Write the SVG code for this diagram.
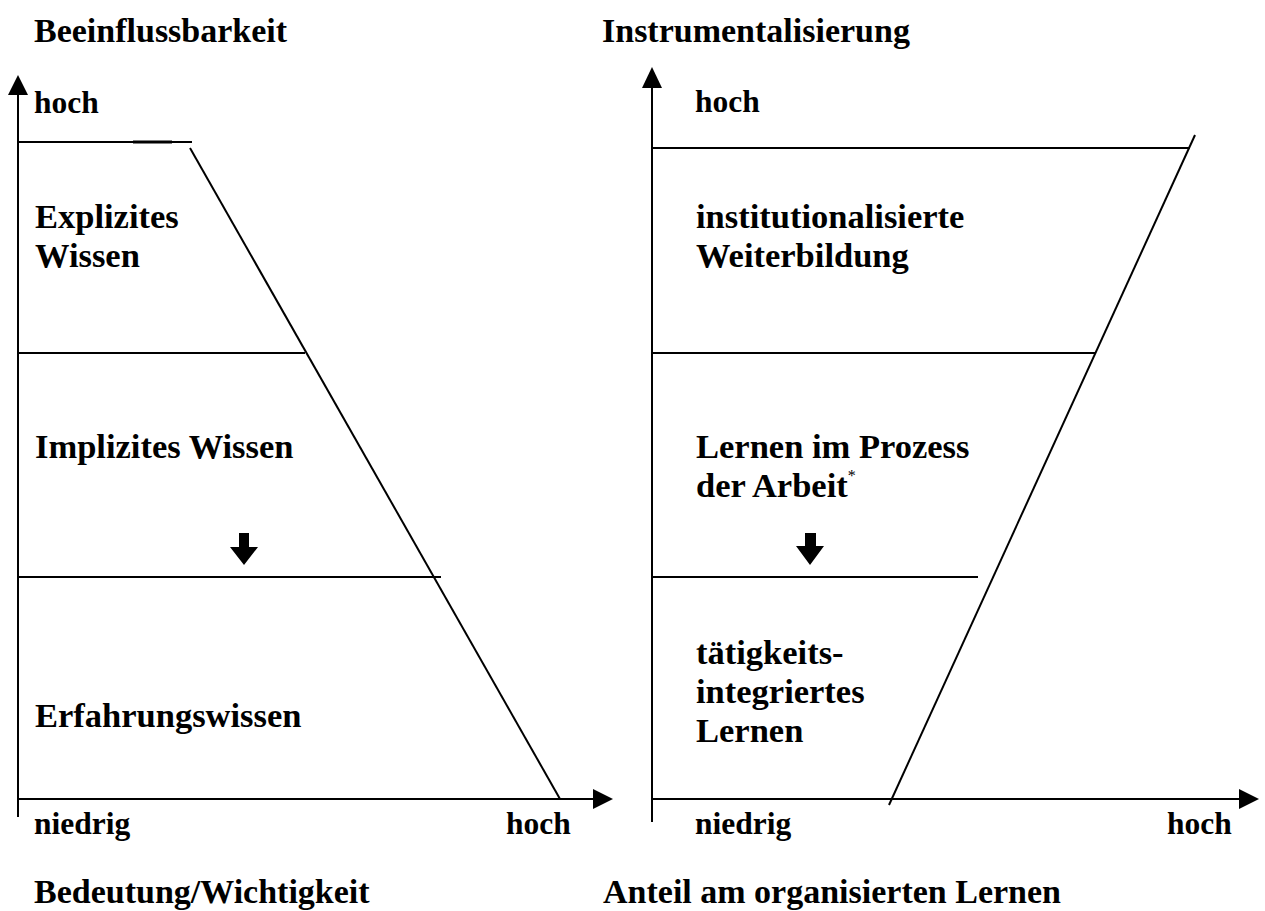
<svg xmlns="http://www.w3.org/2000/svg" width="1265" height="911" viewBox="0 0 1265 911">
<style>
text{font-family:"Liberation Serif","Times New Roman",serif;font-weight:bold;fill:#000}
.t{font-size:34px}
.l{font-size:34.5px}
.a{font-size:31.5px}
.s{font-size:16px;font-weight:normal}
line{stroke:#000;stroke-width:2}
.ah{fill:#000}
</style>
<rect width="1265" height="911" fill="#fff"/>
<g id="titles">
<text class="t" x="34" y="42">Beeinflussbarkeit</text>
<text class="t" x="602" y="42">Instrumentalisierung</text>
<text class="t" x="34" y="903">Bedeutung/Wichtigkeit</text>
<text class="t" x="603" y="903">Anteil am organisierten Lernen</text>
</g>
<g id="axes">
<line x1="18" y1="92" x2="18" y2="817"/>
<polygon class="ah" points="18,75 28,95 8,95"/>
<line x1="18" y1="799" x2="595" y2="799"/>
<polygon class="ah" points="613,799 593,789 593,809"/>
<line x1="652" y1="86" x2="652" y2="822"/>
<polygon class="ah" points="652,67 662,88 642,88"/>
<line x1="652" y1="799" x2="1240" y2="799"/>
<polygon class="ah" points="1259,799 1239,789 1239,809"/>
<text class="a" x="34" y="113">hoch</text>
<text class="a" x="34" y="834">niedrig</text>
<text class="a" x="506" y="834">hoch</text>
<text class="a" x="695" y="112">hoch</text>
<text class="a" x="695" y="834">niedrig</text>
<text class="a" x="1167" y="834">hoch</text>
</g>
<g id="connectors">
<line x1="18" y1="142" x2="192" y2="142"/>
<line x1="133" y1="142" x2="172" y2="142" style="stroke-width:3"/>
<line x1="190" y1="148" x2="560" y2="799"/>
<line x1="18" y1="353" x2="305" y2="353"/>
<line x1="18" y1="577" x2="441" y2="577"/>
<line x1="652" y1="148" x2="1190" y2="148"/>
<line x1="1195" y1="135" x2="889" y2="805"/>
<line x1="652" y1="353" x2="1095" y2="353"/>
<line x1="652" y1="577" x2="978" y2="577"/>
<polygon class="ah" points="239,533 249,533 249,547 258,547 244,565 230,547 239,547"/>
<polygon class="ah" points="805,533 816,533 816,546 824,546 810,565 796,546 805,546"/>
</g>
<g id="node-explizit">
<text class="l" x="35" y="228">Explizites</text>
<text class="l" x="35" y="267">Wissen</text>
</g>
<g id="node-implizit">
<text class="l" x="35" y="458">Implizites Wissen</text>
</g>
<g id="node-erfahrung">
<text class="l" x="35" y="727">Erfahrungswissen</text>
</g>
<g id="node-institutionalisiert">
<text class="l" x="696" y="228">institutionalisierte</text>
<text class="l" x="696" y="267">Weiterbildung</text>
</g>
<g id="node-prozess">
<text class="l" x="696" y="458">Lernen im Prozess</text>
<text class="l" x="696" y="497">der Arbeit<tspan class="s" dy="-16">*</tspan></text>
</g>
<g id="node-taetigkeit">
<text class="l" x="696" y="664">tätigkeits-</text>
<text class="l" x="696" y="703">integriertes</text>
<text class="l" x="696" y="742">Lernen</text>
</g>
</svg>
